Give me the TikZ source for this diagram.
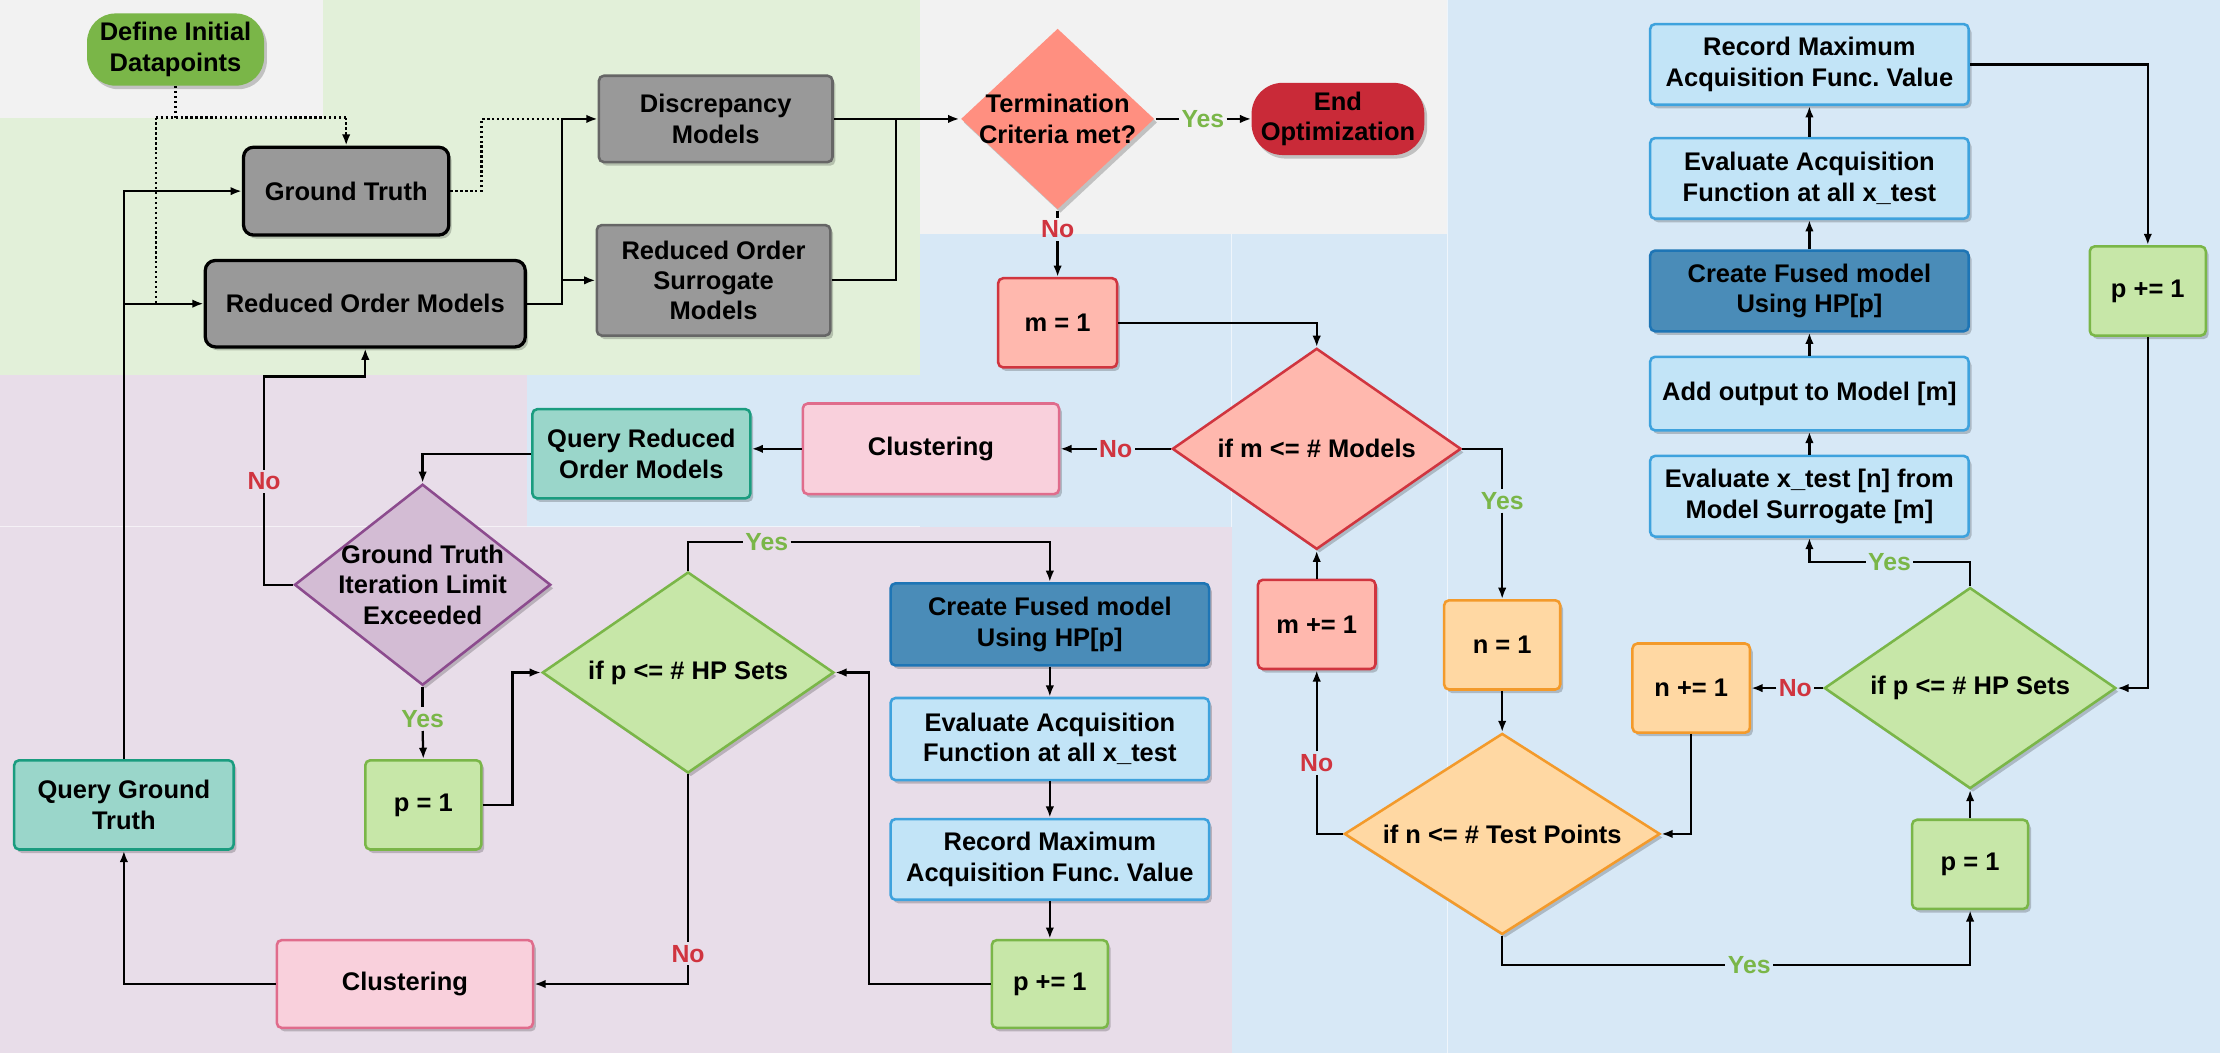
\documentclass[tikz,border=0pt]{standalone}
\usepackage{fontspec}
\setmainfont{Liberation Sans}
\frenchspacing
\usetikzlibrary{shapes.geometric,arrows.meta,shadows,calc}
\definecolor{bggray}{HTML}{F2F2F2}
\definecolor{bggreen}{HTML}{E2F0D9}
\definecolor{bgpurple}{HTML}{E8DDE9}
\definecolor{bgblue}{HTML}{D7E8F6}
\definecolor{gfill}{HTML}{999999}
\definecolor{gdraw}{HTML}{666666}
\definecolor{didfill}{HTML}{7AB648}
\definecolor{termfill}{HTML}{FF8F80}
\definecolor{endfill}{HTML}{C92A38}
\definecolor{rfill}{HTML}{FFB8AE}
\definecolor{rdraw}{HTML}{D0353F}
\definecolor{cfill}{HTML}{F9D0DC}
\definecolor{cdraw}{HTML}{E06C8C}
\definecolor{qfill}{HTML}{9AD6CA}
\definecolor{qdraw}{HTML}{1A9C7F}
\definecolor{pfill}{HTML}{D3BCD4}
\definecolor{pdraw}{HTML}{8C4B8E}
\definecolor{gnfill}{HTML}{C7E7A8}
\definecolor{gndraw}{HTML}{7AB648}
\definecolor{dbfill}{HTML}{4A8CB8}
\definecolor{dbdraw}{HTML}{1E75B5}
\definecolor{lbfill}{HTML}{C2E4F7}
\definecolor{lbdraw}{HTML}{3EA2DD}
\definecolor{ofill}{HTML}{FFD8A3}
\definecolor{odraw}{HTML}{F39A2B}
\definecolor{yescol}{HTML}{7AB648}
\definecolor{nocol}{HTML}{D0343F}
\tikzset{
  every node/.style={font=\fontsize{18}{21.5}\selectfont\bfseries},
  shad/.style={drop shadow={shadow xshift=2pt,shadow yshift=-2.5pt,opacity=0.2,fill=black}},
  sz/.style 2 args={minimum width=#1pt,minimum height=#2pt},
  box/.style={shad,rectangle,rounded corners=3.5pt,line width=1.8pt,align=center,inner sep=2pt},
  blackbox/.style={box,fill=gfill,draw=black,line width=2.3pt,rounded corners=7pt},
  graybox/.style={box,fill=gfill,draw=gdraw},
  redbox/.style={box,fill=rfill,draw=rdraw},
  clubox/.style={box,fill=cfill,draw=cdraw},
  qbox/.style={box,fill=qfill,draw=qdraw},
  gnbox/.style={box,fill=gnfill,draw=gndraw},
  dbbox/.style={box,fill=dbfill,draw=dbdraw},
  lbbox/.style={box,fill=lbfill,draw=lbdraw},
  obox/.style={box,fill=ofill,draw=odraw},
  pill/.style={shad,rectangle,align=center,inner sep=2pt},
  dia/.style={shad,diamond,line width=1.8pt,inner sep=0pt},
  ln/.style={line width=1.6pt},
  arr/.style={line width=1.6pt,-{Latex[length=8pt,width=6pt]}},
  dotln/.style={line width=1.6pt,dash pattern=on 1.6pt off 1.9pt},
  yeslbl/.style={font=\fontsize{17.5}{20}\selectfont\bfseries,text=yescol,inner xsep=1.5pt,inner ysep=2pt},
  nolbl/.style={font=\fontsize{17.5}{20}\selectfont\bfseries,text=nocol,inner xsep=1.5pt,inner ysep=2pt},
  regline/.style={draw=white,line width=0.6pt,opacity=0.6}
}
\begin{document}
\begin{tikzpicture}[x=1pt,y=-1pt]
\useasboundingbox (0,0) rectangle (1568,744);
% background regions
\fill[bgblue] (650,165) rectangle (1022,744);
\fill[bgblue] (1022,0) rectangle (1568,744);
\fill[bgblue] (372,265) rectangle (650,372);
\fill[bgpurple] (0,265) rectangle (372,744);
\fill[bgpurple] (372,372) rectangle (870,744);
\fill[bggreen] (0,83) rectangle (650,265);
\fill[bggreen] (228,0) rectangle (650,83);
\fill[bggray] (0,0) rectangle (228,83);
\fill[bggray] (650,0) rectangle (1022,165);
\draw[regline] (1022,0) -- (1022,744);
\draw[regline] (870,165) -- (870,372);
\draw[regline] (0,372) -- (650,372);

% nodes
\node[pill,fill=didfill,rounded corners=20pt,sz={125}{51}] (did) at (124,35) {Define Initial\\Datapoints};
\node[blackbox,sz={145}{62}] (gt) at (244.5,135) {Ground Truth};
\node[blackbox,sz={226}{61}] (rom) at (258,214.5) {Reduced Order Models};
\node[graybox,sz={165}{61}] (dm) at (505.5,84) {Discrepancy\\Models};
\node[graybox,sz={165}{78}] (rsm) at (504,198) {Reduced Order\\Surrogate\\Models};
\node[dia,fill=termfill,sz={137}{128},label={[align=center]center:{Termination\\Criteria met?}}] (term) at (747,84) {};
\node[pill,fill=endfill,rounded corners=22pt,sz={122}{51}] (endo) at (945,84) {End\\Optimization};
\node[redbox,sz={84}{63}] (m1) at (747,228) {m = 1};
\node[dia,fill=rfill,draw=rdraw,sz={204}{142},label={center:{if m <= \# Models}}] (ifm) at (930,317) {};
\node[clubox,sz={181}{64}] (clu1) at (657.5,317) {Clustering};
\node[qbox,sz={154}{63}] (qrom) at (453,320.5) {Query Reduced\\Order Models};
\node[dia,fill=pfill,draw=pdraw,sz={181}{142},label={[align=center]center:{Ground Truth\\Iteration Limit\\Exceeded}}] (gtil) at (298.5,413) {};
\node[dia,fill=gnfill,draw=gndraw,sz={206}{142},label={center:{if p <= \# HP Sets}}] (ifp1) at (486,475) {};
\node[gnbox,sz={82}{63}] (p1a) at (299,568.5) {p = 1};
\node[qbox,sz={155}{63}] (qgt) at (87.5,568.5) {Query Ground\\Truth};
\node[clubox,sz={181}{62}] (clu2) at (286,695) {Clustering};
\node[dbbox,sz={225}{58}] (cfm1) at (741.5,441) {Create Fused model\\Using HP[p]};
\node[lbbox,sz={225}{58}] (eaf1) at (741.5,522) {Evaluate Acquisition\\Function at all x\_test};
\node[lbbox,sz={225}{57}] (rma1) at (741.5,607) {Record Maximum\\Acquisition Func. Value};
\node[gnbox,sz={82}{62}] (pp1) at (741.5,695) {p += 1};
\node[lbbox,sz={225}{57}] (rma2) at (1278,45.5) {Record Maximum\\Acquisition Func. Value};
\node[lbbox,sz={225}{57}] (eaf2) at (1278,126) {Evaluate Acquisition\\Function at all x\_test};
\node[dbbox,sz={225}{57}] (cfm2) at (1278,205.5) {Create Fused model\\Using HP[p]};
\node[lbbox,sz={225}{52}] (add) at (1278,278) {Add output to Model [m]};
\node[lbbox,sz={225}{57}] (evx) at (1278,350.5) {Evaluate x\_test [n] from\\Model Surrogate [m]};
\node[gnbox,sz={82}{63}] (pp2) at (1517,205.5) {p += 1};
\node[redbox,sz={83}{63}] (mp) at (930,441) {m += 1};
\node[obox,sz={82}{63}] (n1) at (1061,455.5) {n = 1};
\node[dia,fill=ofill,draw=odraw,sz={223}{142},label={center:{if n <= \# Test Points}}] (ifn) at (1061,589) {};
\node[obox,sz={83}{63}] (np) at (1194.5,486) {n += 1};
\node[dia,fill=gnfill,draw=gndraw,sz={206}{142},label={center:{if p <= \# HP Sets}}] (ifp2) at (1391.5,486) {};
\node[gnbox,sz={82}{63}] (p2) at (1391.5,610.5) {p = 1};

% labels
\node[nolbl] (noT) at (747,162) {No};
\node[yeslbl] (yT) at (849.6,84) {Yes};
\node[nolbl] (noM) at (788,317) {No};
\node[nolbl] (noG) at (186.5,340) {No};
\node[yeslbl] (yG) at (298.5,508) {Yes};
\node[yeslbl] (yP) at (541.6,383) {Yes};
\node[nolbl] (nP) at (486,673.6) {No};
\node[yeslbl] (yM) at (1061,353.7) {Yes};
\node[nolbl] (nN) at (930,539) {No};
\node[yeslbl] (yN) at (1235.5,681.6) {Yes};
\node[yeslbl] (yP2) at (1334.6,397) {Yes};
\node[nolbl] (nP2) at (1268,486) {No};

% coordinates
\coordinate (dl) at (110,83);
\coordinate (dr) at (gt.north |- dl);
\coordinate (gtx) at (340,135);
\coordinate (jx) at (397,84);
\coordinate (jy) at (633,84);
\coordinate (c1) at (614,695);
\coordinate (c2) at (362,568.5);
\coordinate (c3) at (186.5,266);

% dotted connectors
\draw[dotln] (did.south) -- (did.south |- dl);
\draw[dotln] (dl) -- (dr);
\draw[dotln,-{Latex[length=8pt,width=6pt]}] (dr) -- (gt.north);
\draw[dotln] (dl) -- (dl |- rom.west);
\draw[dotln] (gt.east) -- (gtx) |- (jx);

% solid connectors
\draw[arr] (rom.east) -| (jx) -- (dm.west);
\draw[arr] (jx |- rsm.west) -- (rsm.west);
\draw[ln] (dm.east) -- (jy);
\draw[ln] (rsm.east) -| (jy);
\draw[arr] (jy) -- (term.west);
\draw[ln] (term.east) -- (yT.west);
\draw[arr] (yT.east) -- (endo.west);
\draw[ln] (term.south) -- (noT.north);
\draw[arr] (noT.south) -- (m1.north);
\draw[arr] (m1.east) -| (ifm.north);
\draw[ln] (ifm.west) -- (noM.east);
\draw[arr] (noM.west) -- (clu1.east);
\draw[arr] (clu1.west) -- (clu1.west -| qrom.east);
\draw[arr] (qrom.west) -| (gtil.north);
\draw[ln] (gtil.west) -| (noG.south);
\draw[arr] (noG.north) -- (c3) -| (rom.south);
\draw[ln] (gtil.south) -- (yG.north);
\draw[arr] (yG.south) -- (p1a.north);
\draw[arr] (p1a.east) -- (c2) |- (ifp1.west);
\draw[ln] (ifp1.north) |- (yP.west);
\draw[arr] (yP.east) -| (cfm1.north);
\draw[arr] (cfm1.south) -- (eaf1.north);
\draw[arr] (eaf1.south) -- (rma1.north);
\draw[arr] (rma1.south) -- (pp1.north);
\draw[arr] (pp1.west) -- (c1) |- (ifp1.east);
\draw[ln] (ifp1.south) -- (nP.north);
\draw[arr] (nP.south) |- (clu2.east);
\draw[arr] (clu2.west) -| (qgt.south);
\draw[arr] (qgt.north) |- (gt.west);
\draw[arr] (qgt.north |- rom.west) -- (rom.west);
\draw[arr] (mp.north) -- (ifm.south);
\draw[ln] (ifn.west) -| (nN.south);
\draw[arr] (nN.north) -- (mp.south);
\draw[ln] (ifm.east) -| (yM.north);
\draw[arr] (yM.south) -- (n1.north);
\draw[arr] (n1.south) -- (ifn.north);
\draw[ln] (ifn.south) |- (yN.west);
\draw[arr] (yN.east) -| (p2.south);
\draw[arr] (p2.north) -- (ifp2.south);
\draw[ln] (ifp2.north) |- (yP2.east);
\draw[arr] (yP2.west) -| (evx.south);
\draw[ln] (ifp2.west) -- (nP2.east);
\draw[arr] (nP2.west) -- (np.east);
\draw[arr] (np.south) |- (ifn.east);
\draw[arr] (evx.north) -- (add.south);
\draw[arr] (add.north) -- (cfm2.south);
\draw[arr] (cfm2.north) -- (eaf2.south);
\draw[arr] (eaf2.north) -- (rma2.south);
\draw[arr] (rma2.east) -| (pp2.north);
\draw[arr] (pp2.south) |- (ifp2.east);
\end{tikzpicture}
\end{document}
